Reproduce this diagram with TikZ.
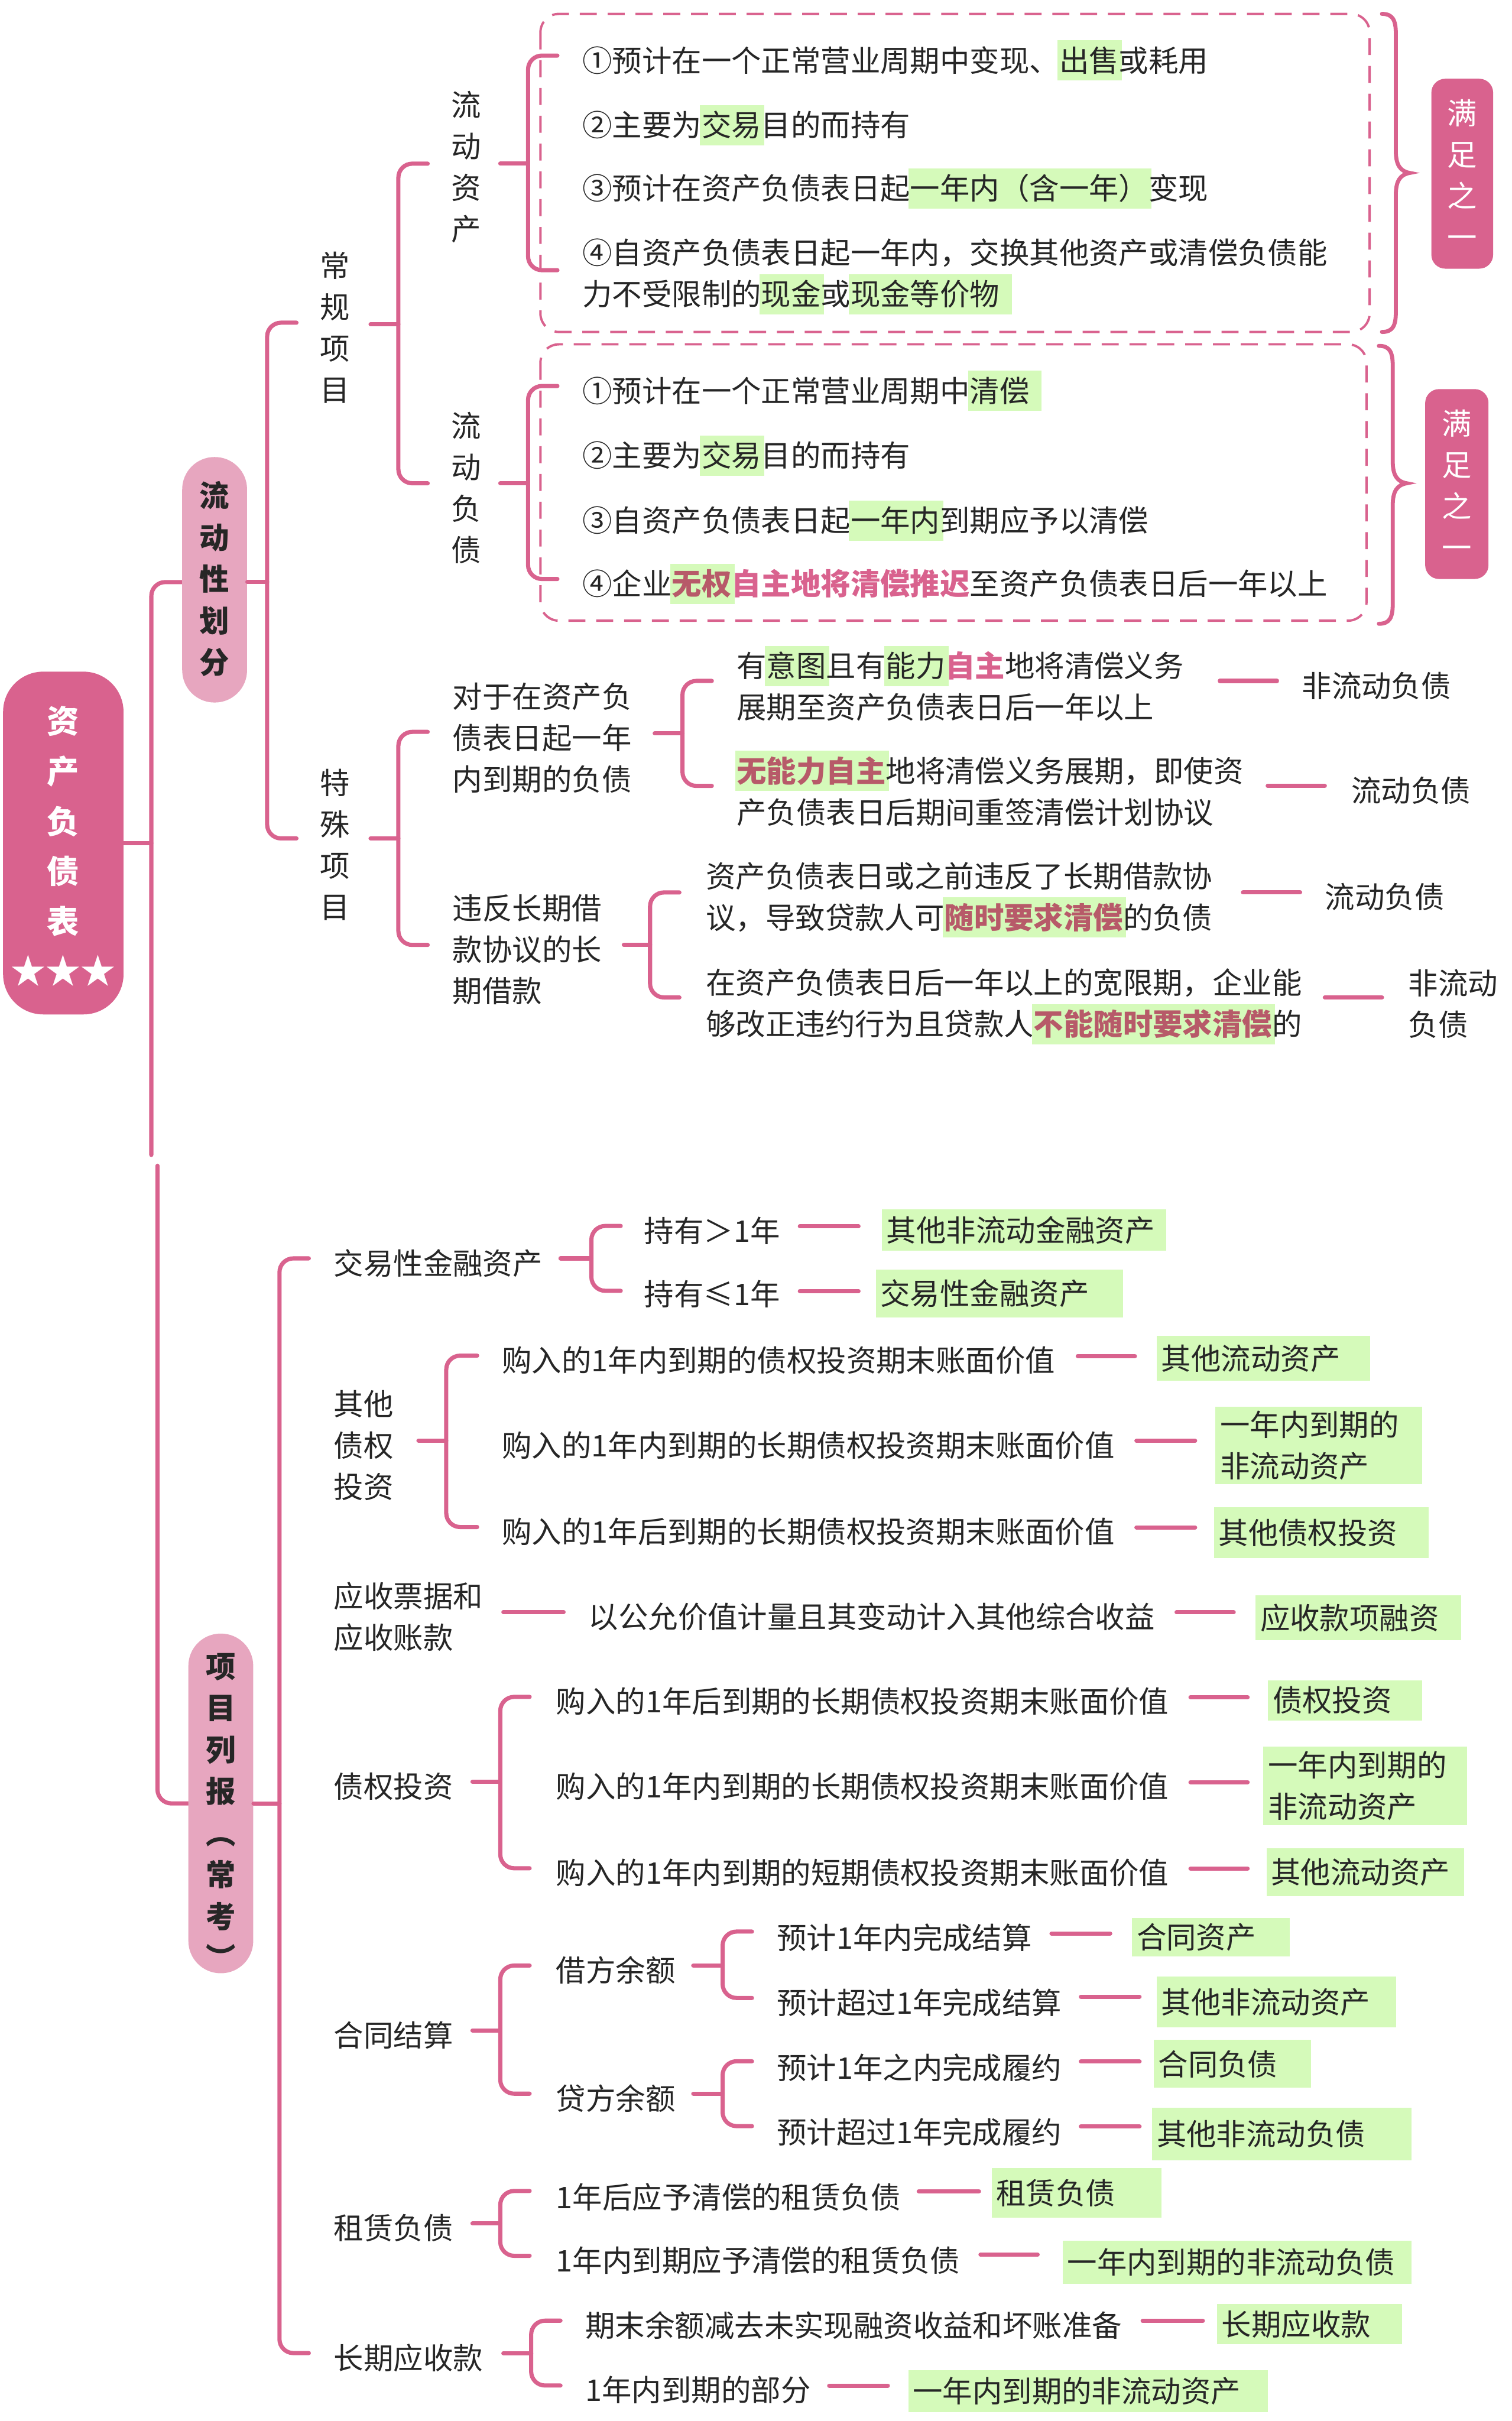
\documentclass[tikz,border=0pt]{standalone}
\usepackage{fontspec}
\setmainfont{Noto Sans CJK SC}
\definecolor{pk}{RGB}{217,98,142}
\definecolor{lpk}{RGB}{231,166,191}
\definecolor{hlg}{RGB}{213,250,186}
\definecolor{hlpk}{RGB}{183,90,105}
\definecolor{tc}{RGB}{38,38,38}
\newcommand\fs{\fontsize{19.3}{26.8}\selectfont}
\newcommand\hl[1]{\setbox0=\hbox{#1}\leavevmode\rlap{\kern-1pt\smash{\textcolor{hlg}{\rule[-0.3em]{\dimexpr\wd0+3pt\relax}{1.35em}}}}\box0}
\newcommand\hlp[1]{\hl{\textcolor{hlpk}{\bfseries #1}}}
\newcommand\pkb[1]{\textcolor{pk}{\bfseries #1}}
\tikzset{
 ln/.style={draw=pk, line width=2.7pt, line cap=round},
 br/.style={ln, rounded corners=9pt},
 txt/.style={font=\fs, text=tc, inner sep=0pt, anchor=west, align=left},
 vtx/.style={font=\fs, text=tc, inner sep=0pt, align=center},
 tgt/.style={fill=hlg, font=\fs, text=tc, inner xsep=3pt, inner ysep=0pt, anchor=north west, align=left},
 dsh/.style={draw=pk, line width=1.5pt, dash pattern=on 11pt off 7pt, rounded corners=12pt},
 brace/.style={draw=pk, line width=2.6pt, line cap=round},
 sat/.style={fill=pk, rounded corners=9pt, text=white, font=\fs, align=center, inner sep=0pt},
 pill/.style={fill=lpk, rounded corners=20.9pt, inner sep=0pt},
 pilltxt/.style={font=\fontsize{19.3}{27}\selectfont\bfseries, text=tc, align=center, inner sep=0pt},
}
\begin{document}
\begin{tikzpicture}[x=1pt,y=-1pt]
\useasboundingbox (0,0) rectangle (979,1568);
\fill[white] (0,0) rectangle (979,1568);

% ---------- root ----------
\node[fill=pk, rounded corners=26pt, minimum width=78pt, minimum height=222pt, inner sep=0pt] (root) at (41,546) {};
\node[font=\fontsize{20.8}{32.4}\selectfont\bfseries, text=white, align=center, inner sep=0pt] (roottxt) at (41,548) {资\\产\\负\\债\\表\\{\fontsize{22.5}{32.4}\selectfont ★★★}};

\draw[ln] (root.east) -- (98,546);
\draw[br] (98,748) -- (98,377) -- (118,377);
\draw[br] (102,755) -- (102,1168) -- (122,1168);

% ---------- pills ----------
\node[pill, minimum width=42pt, minimum height=159pt] (p1) at (139,375.5) {};
\node[pilltxt] (p1t) at (139,375) {流\\动\\性\\划\\分};
\node[pill, minimum width=42pt, minimum height=220pt] (p2) at (143,1168) {};
\node[pilltxt] (p2t) at (143,1173) {项\\目\\列\\报\\︵\\常\\考\\︶};

% ---------- upper brackets ----------
\draw[ln] (p1.east |- 0,377) -- (173,377);
\draw[br] (192,209) -- (173,209) -- (173,543) -- (192,543);

\draw[ln] (240,210) -- (258,210);
\draw[br] (277,106) -- (258,106) -- (258,313) -- (277,313);

\draw[ln] (324,106) -- (342,106);
\draw[br] (361,36) -- (342,36) -- (342,175) -- (361,175);

\draw[ln] (324,313) -- (342,313);
\draw[br] (361,250) -- (342,250) -- (342,375) -- (361,375);

\draw[ln] (240,543) -- (258,543);
\draw[br] (277,474) -- (258,474) -- (258,612) -- (277,612);

\draw[ln] (424,475) -- (442,475);
\draw[br] (461,441) -- (442,441) -- (442,509) -- (461,509);

\draw[ln] (404,612) -- (421,612);
\draw[br] (440,578) -- (421,578) -- (421,646) -- (440,646);

% dashed frames
\draw[dsh] (350,9) rectangle (887,215);
\draw[dsh] (350,223) rectangle (885,402);

% braces
\draw[brace] (895,9) .. controls (902,9) and (904,13) .. (904,22) -- (904,98) .. controls (904,107) and (907,111) .. (913,112) .. controls (907,113) and (904,117) .. (904,126) -- (904,202) .. controls (904,211) and (902,215) .. (895,215);
\draw[brace] (893,224) .. controls (900,224) and (902,228) .. (902,237) -- (902,299) .. controls (902,308) and (905,312) .. (911,313) .. controls (905,314) and (902,318) .. (902,327) -- (902,391) .. controls (902,400) and (900,404) .. (893,404);

\node[sat, minimum width=40pt, minimum height=123pt] (m1) at (947,112.5) {满\\足\\之\\一};
\node[sat, minimum width=41pt, minimum height=123pt] (m2) at (943.5,313.5) {满\\足\\之\\一};

% ---------- upper texts ----------
\node[vtx] (cg) at (217,212) {常\\规\\项\\目};
\node[vtx] (ldzc) at (302,108) {流\\动\\资\\产};
\node[vtx] (ldfz) at (302,316) {流\\动\\负\\债};
\node[vtx] (tsx) at (217,547) {特\\殊\\项\\目};

\node[txt] (a1) at (377,39) {①预计在一个正常营业周期中变现、\hl{出售}或耗用};
\node[txt] (a2) at (377,81) {②主要为\hl{交易}目的而持有};
\node[txt] (a3) at (377,122) {③预计在资产负债表日起\hl{一年内（含一年）}变现};
\node[txt] (a4) at (377,177) {④自资产负债表日起一年内，交换其他资产或清偿负债能\\力不受限制的\hl{现金}或\hl{现金等价物\hspace{6pt}}};

\node[txt] (b1) at (377,253) {①预计在一个正常营业周期中\hl{清偿\hspace{6pt}}};
\node[txt] (b2) at (377,295) {②主要为\hl{交易}目的而持有};
\node[txt] (b3) at (377,337) {③自资产负债表日起\hl{一年内}到期应予以清偿};
\node[txt] (b4) at (377,378) {④企业\hlp{无权}\pkb{自主地将清偿推迟}至资产负债表日后一年以上};

\node[txt] (s1) at (293,478) {对于在资产负\\债表日起一年\\内到期的负债};
\node[txt] (s1a) at (477,444.5) {有\hl{意图}且有\hl{能力}\pkb{自主}地将清偿义务\\展期至资产负债表日后一年以上};
\node[txt] (s1b) at (477,512.5) {\hlp{无能力自主}地将清偿义务展期，即使资\\产负债表日后期间重签清偿计划协议};
\node[txt] (s2) at (293,615) {违反长期借\\款协议的长\\期借款};
\node[txt] (s2a) at (457,581) {资产负债表日或之前违反了长期借款协\\议，导致贷款人可\hlp{随时要求清偿}的负债};
\node[txt] (s2b) at (457,650) {在资产负债表日后一年以上的宽限期，企业能\\够改正违约行为且贷款人\hlp{不能随时要求清偿}的};

\node[txt] (u1) at (843,444) {非流动负债};
\node[txt] (u2) at (875,512) {流动负债};
\node[txt] (u3) at (858,581) {流动负债};
\node[txt] (u4) at (912,650) {非流动\\负债};

\draw[ln] (u1.west) ++(-53,-3) -- ++(37,0);
\draw[ln] (u2.west) ++(-54,-3) -- ++(37,0);
\draw[ln] (u3.west) ++(-53,-3) -- ++(37,0);
\draw[ln] (u4.west) ++(-54,-4) -- ++(37,0);

% ---------- lower brackets ----------
\draw[ln] (p2.east) -- (181,1168);
\draw[br] (200,815) -- (181,815) -- (181,1524) -- (200,1524);

\draw[ln] (363,815) -- (383,815);
\draw[br] (402,794) -- (383,794) -- (383,836) -- (402,836);

\draw[ln] (271,933) -- (289,933);
\draw[br] (309,878) -- (289,878) -- (289,989) -- (309,989);

\draw[ln] (306,1154) -- (324,1154);
\draw[br] (343,1099) -- (324,1099) -- (324,1210) -- (343,1210);

\draw[ln] (306,1315) -- (324,1315);
\draw[br] (343,1273) -- (324,1273) -- (324,1356) -- (343,1356);

\draw[ln] (449,1273) -- (468,1273);
\draw[br] (487,1251) -- (468,1251) -- (468,1294) -- (487,1294);

\draw[ln] (449,1356) -- (468,1356);
\draw[br] (487,1335) -- (468,1335) -- (468,1377) -- (487,1377);

\draw[ln] (306,1440) -- (324,1440);
\draw[br] (343,1419) -- (324,1419) -- (324,1461) -- (343,1461);

\draw[ln] (326,1524) -- (344,1524);
\draw[br] (363,1503) -- (344,1503) -- (344,1545) -- (363,1545);

% ---------- lower texts ----------
\node[txt] (l1) at (216,818) {交易性金融资产};
\node[txt] (l1a) at (417,797) {持有＞1年};
\node[txt] (l1b) at (417,838) {持有≤1年};
\node[txt] (l2) at (216,936) {其他\\债权\\投资};
\node[txt] (l2a) at (325,881) {购入的1年内到期的债权投资期末账面价值};
\node[txt] (l2b) at (325,936) {购入的1年内到期的长期债权投资期末账面价值};
\node[txt] (l2c) at (325,992) {购入的1年后到期的长期债权投资期末账面价值};
\node[txt] (l3) at (216,1047) {应收票据和\\应收账款};
\node[txt] (l3a) at (381,1047) {以公允价值计量且其变动计入其他综合收益};
\node[txt] (l4) at (216,1157) {债权投资};
\node[txt] (l4a) at (360,1102) {购入的1年后到期的长期债权投资期末账面价值};
\node[txt] (l4b) at (360,1157) {购入的1年内到期的长期债权投资期末账面价值};
\node[txt] (l4c) at (360,1213) {购入的1年内到期的短期债权投资期末账面价值};
\node[txt] (l5) at (216,1318) {合同结算};
\node[txt] (l5a) at (360,1276) {借方余额};
\node[txt] (l5b) at (360,1359) {贷方余额};
\node[txt] (l5a1) at (503,1255) {预计1年内完成结算};
\node[txt] (l5a2) at (503,1297) {预计超过1年完成结算};
\node[txt] (l5b1) at (503,1339) {预计1年之内完成履约};
\node[txt] (l5b2) at (503,1381) {预计超过1年完成履约};
\node[txt] (l6) at (216,1443) {租赁负债};
\node[txt] (l6a) at (360,1423) {1年后应予清偿的租赁负债};
\node[txt] (l6b) at (360,1464) {1年内到期应予清偿的租赁负债};
\node[txt] (l7) at (216,1527) {长期应收款};
\node[txt] (l7a) at (379,1506) {期末余额减去未实现融资收益和坏账准备};
\node[txt] (l7b) at (379,1548) {1年内到期的部分};

% ---------- target boxes ----------
\node[tgt, text width=178pt, minimum height=27pt] (T1) at (571,783) {其他非流动金融资产};
\node[tgt, text width=154pt, minimum height=31pt] (T2) at (567,822) {交易性金融资产};
\node[tgt, text width=132pt, minimum height=29pt] (T3) at (749,865) {其他流动资产};
\node[tgt, text width=128pt, minimum height=50pt] (T4) at (787,911) {一年内到期的\\非流动资产};
\node[tgt, text width=133pt, minimum height=33pt] (T5) at (786,976) {其他债权投资};
\node[tgt, text width=127pt, minimum height=29pt] (T6) at (813,1033) {应收款项融资};
\node[tgt, text width=94pt, minimum height=26pt] (T7) at (821,1088) {债权投资};
\node[tgt, text width=126pt, minimum height=51pt] (T8) at (818,1131) {一年内到期的\\非流动资产};
\node[tgt, text width=122pt, minimum height=31pt] (T9) at (820,1197) {其他流动资产};
\node[tgt, text width=96pt, minimum height=25pt] (T10) at (733,1242) {合同资产};
\node[tgt, text width=149pt, minimum height=33pt] (T11) at (749,1280) {其他非流动资产};
\node[tgt, text width=96pt, minimum height=31pt] (T12) at (747,1321) {合同负债};
\node[tgt, text width=162pt, minimum height=34pt] (T13) at (746,1365) {其他非流动负债};
\node[tgt, text width=104pt, minimum height=32pt] (T14) at (642,1404) {租赁负债};
\node[tgt, text width=220pt, minimum height=28pt] (T15) at (688,1451) {一年内到期的非流动负债};
\node[tgt, text width=114pt, minimum height=26pt] (T16) at (788,1492) {长期应收款};
\node[tgt, text width=227pt, minimum height=27pt] (T17) at (588,1535) {一年内到期的非流动资产};

% ---------- connectors ----------
\draw[ln] (T1.west) ++(-53,-2.5) -- ++(38,0);
\draw[ln] (T2.west) ++(-49,-1.5) -- ++(38,0);
\draw[ln] (T3.west) ++(-51,-1.5) -- ++(37,0);
\draw[ln] (T4.west) ++(-51,-3) -- ++(38,0);
\draw[ln] (T5.west) ++(-50,-3.5) -- ++(38,0);
\draw[ln] (l3a.west) ++(-55,-3) -- ++(39,0);
\draw[ln] (T6.west) ++(-51,-3.5) -- ++(37,0);
\draw[ln] (T7.west) ++(-50,-2) -- ++(37,0);
\draw[ln] (T8.west) ++(-47,-2.5) -- ++(37,0);
\draw[ln] (T9.west) ++(-49,-2.5) -- ++(37,0);
\draw[ln] (T10.west) ++(-52,-2.5) -- ++(38,0);
\draw[ln] (T11.west) ++(-49,-3.5) -- ++(38,0);
\draw[ln] (T12.west) ++(-47,-1.5) -- ++(38,0);
\draw[ln] (T13.west) ++(-46,-5) -- ++(38,0);
\draw[ln] (T14.west) ++(-47,-1) -- ++(39,0);
\draw[ln] (T15.west) ++(-53,-5) -- ++(37,0);
\draw[ln] (T16.west) ++(-48,-2) -- ++(39,0);
\draw[ln] (T17.west) ++(-51,-3.5) -- ++(38,0);
\end{tikzpicture}
\end{document}
